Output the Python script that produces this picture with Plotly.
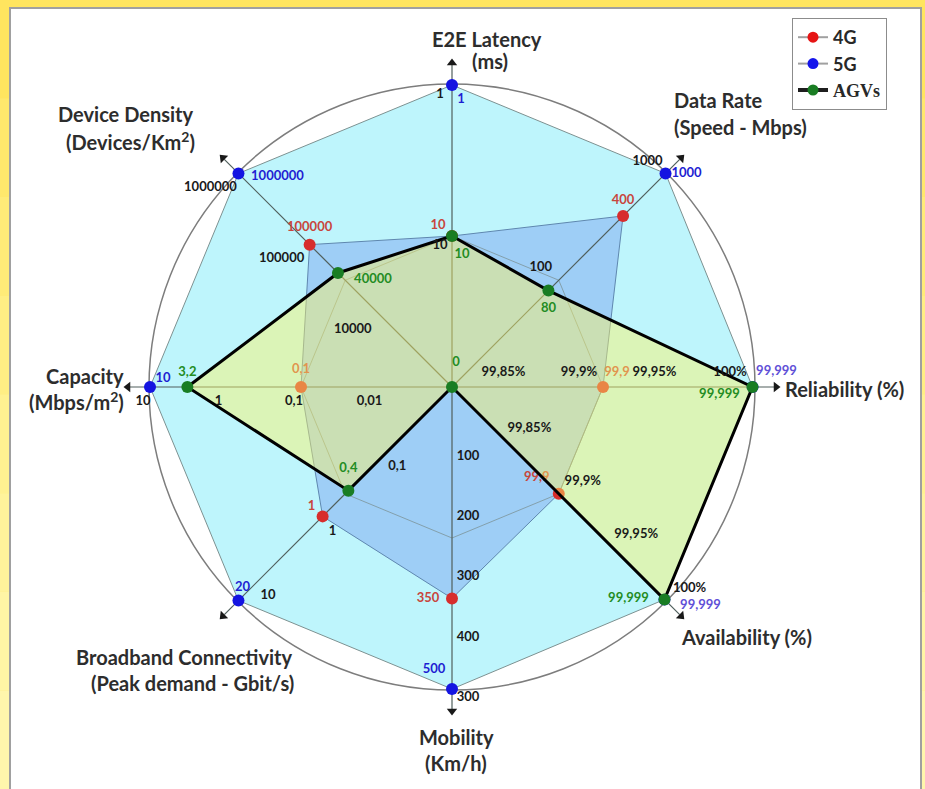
import math
import plotly.graph_objects as go

# ---------------- data ----------------
AXIS_NAMES = ["E2E Latency", "Data Rate", "Reliability", "Availability",
              "Mobility", "Broadband Connectivity", "Capacity", "Device Density"]
ANGLES = [90, 45, 0, -45, -90, -135, 180, 135]

SCALE_KIND = ["log", "log", "lin", "lin", "lin", "log", "log", "log"]
SCALE_LO = [100, 10, 99.8, 99.8, 0, 0.01, 0.001, 1000]
SCALE_HI = [1, 1000, 100, 100, 500, 20, 10, 1000000]

VAL_4G = [10, 400, 99.9, 99.9, 350, 1, 0.1, 100000]
VAL_5G = [1, 1000, 99.999, 99.999, 500, 20, 10, 1000000]
VAL_AGV = [10, 80, 99.999, 99.999, 0, 0.4, 3.2, 40000]

LBL_4G = ["10", "400", "99,9", "99,9", "350", "1", "0,1", "100000"]
LBL_5G = ["1", "1000", "99,999", "99,999", "500", "20", "10", "1000000"]
LBL_AGV = ["10", "80", "99,999", "99,999", "0", "0,4", "3,2", "40000"]

TICK_VALS = [[1, 10], [100, 1000], [99.85, 99.9, 99.95, 100], [99.85, 99.9, 99.95, 100],
             [100, 200, 300, 400, 500], [0.1, 1, 10], [10, 1, 0.1, 0.01],
             [1000000, 100000, 10000]]
TICK_TEXT = [["1", "10"], ["100", "1000"], ["99,85%", "99,9%", "99,95%", "100%"],
             ["99,85%", "99,9%", "99,95%", "100%"], ["100", "200", "300", "400", "300"],
             ["0,1", "1", "10"], ["10", "1", "0,1", "0,01"],
             ["1000000", "100000", "10000"]]

# ---------------- style / layout ----------------
W, H = 925, 789
CX, CY = 452, 387          # screen position of the radar centre
R = 302                    # full-scale radius (px)
FONT = "Lato"

OFF_5G = [(9, 15), (21, 0), (24, -15), (36, 6), (-18, -19), (4, -13), (13, -8), (39, 3)]
OFF_4G = [(-14, -10), (0, -15), (14, -14), (-22, -16), (-24, 0), (-11, -10), (0, -17), (0, -17)]
OFF_AGV = [(10, 19), (0, 18), (-33, 8), (-36, -1), (4, -24), (0, -22), (0, -14), (35, 7)]
TICK_OFF = [(-12, 10), (-18, -12), (-24, -14), (24, -12), (16, 9), (10, 15), (-7, 15), (-28, 14)]

COL_5G_TXT = ["rgb(30,30,210)", "rgb(30,30,210)", "rgb(95,80,215)", "rgb(95,80,215)",
              "rgb(30,30,210)", "rgb(30,30,210)", "rgb(30,30,210)", "rgb(30,30,210)"]


def radius(i, v):
    lo, hi = SCALE_LO[i], SCALE_HI[i]
    if SCALE_KIND[i] == "log":
        t = (math.log10(v) - math.log10(lo)) / (math.log10(hi) - math.log10(lo))
    else:
        t = (v - lo) / (hi - lo)
    return R * t


def polar_xy(i, r):
    a = math.radians(ANGLES[i])
    return r * math.cos(a), r * math.sin(a)


def value_xy(i, v):
    return polar_xy(i, radius(i, v))


def series_xy(vals, closed=True):
    pts = [value_xy(i, v) for i, v in enumerate(vals)]
    if closed:
        pts = pts + [pts[0]]
    return [p[0] for p in pts], [p[1] for p in pts]


def label_xy(vals, offs):
    xs, ys = [], []
    for i, v in enumerate(vals):
        x, y = value_xy(i, v)
        xs.append(x + offs[i][0])
        ys.append(y - offs[i][1])
    return xs, ys


fig = go.Figure()

# 5G area
x5, y5 = series_xy(VAL_5G)
fig.add_trace(go.Scatter(x=x5, y=y5, mode="lines", fill="toself",
                         fillcolor="rgb(190,245,252)",
                         line=dict(color="rgb(125,145,145)", width=1),
                         hoverinfo="skip", showlegend=False))
# 4G area
x4, y4 = series_xy(VAL_4G)
fig.add_trace(go.Scatter(x=x4, y=y4, mode="lines", fill="toself",
                         fillcolor="rgb(158,206,246)",
                         line=dict(color="rgb(95,135,175)", width=1),
                         hoverinfo="skip", showlegend=False))

# mid-level grid octagon
gx, gy = [], []
for i in range(len(ANGLES) + 1):
    px, py = polar_xy(i % len(ANGLES), R / 2)
    gx.append(px)
    gy.append(py)
fig.add_trace(go.Scatter(x=gx, y=gy, mode="lines",
                         line=dict(color="rgba(120,140,140,0.7)", width=1),
                         hoverinfo="skip", showlegend=False))

# axis spokes (extend beyond the circle up to the arrow heads)
ax_x, ax_y = [], []
for i in range(len(ANGLES)):
    ex, ey = polar_xy(i, R + 20)
    ax_x += [0, ex, None]
    ax_y += [0, ey, None]
fig.add_trace(go.Scatter(x=ax_x, y=ax_y, mode="lines",
                         line=dict(color="rgb(80,95,92)", width=1.2),
                         hoverinfo="skip", showlegend=False))
# arrow heads
hx, hy, hang = [], [], []
for i in range(len(ANGLES)):
    px, py = polar_xy(i, R + 22)
    hx.append(px)
    hy.append(py)
    hang.append(90 - ANGLES[i])
fig.add_trace(go.Scatter(x=hx, y=hy, mode="markers",
                         marker=dict(symbol="triangle-up", size=9, angle=hang,
                                     color="rgb(25,25,25)"),
                         hoverinfo="skip", showlegend=False))

# 5G markers
fig.add_trace(go.Scatter(x=x5[:-1], y=y5[:-1], mode="markers",
                         marker=dict(color="rgb(20,20,225)", size=12),
                         hoverinfo="skip", showlegend=False))
# 4G markers and labels (under the AGV fill)
fig.add_trace(go.Scatter(x=x4[:-1], y=y4[:-1], mode="markers",
                         marker=dict(color="rgb(215,45,45)", size=12),
                         hoverinfo="skip", showlegend=False))
lx, ly = label_xy(VAL_4G, OFF_4G)
fig.add_trace(go.Scatter(x=lx, y=ly, mode="text", text=LBL_4G,
                         textfont=dict(family=FONT, size=13, color="rgb(200,70,60)", weight="bold"),
                         hoverinfo="skip", showlegend=False))

# AGV area
xa, ya = series_xy(VAL_AGV)
fig.add_trace(go.Scatter(x=xa, y=ya, mode="lines", fill="toself",
                         fillcolor="rgba(255,245,100,0.45)",
                         line=dict(color="black", width=3),
                         hoverinfo="skip", showlegend=False))
fig.add_trace(go.Scatter(x=xa[:-1], y=ya[:-1], mode="markers",
                         marker=dict(color="rgb(25,125,35)", size=12),
                         hoverinfo="skip", showlegend=False))

# 5G and AGV labels
lx, ly = label_xy(VAL_5G, OFF_5G)
fig.add_trace(go.Scatter(x=lx, y=ly, mode="text", text=LBL_5G,
                         textfont=dict(family=FONT, size=13, color=COL_5G_TXT, weight="bold"),
                         hoverinfo="skip", showlegend=False))
lx, ly = label_xy(VAL_AGV, OFF_AGV)
fig.add_trace(go.Scatter(x=lx, y=ly, mode="text", text=LBL_AGV,
                         textfont=dict(family=FONT, size=13, color="rgb(35,140,35)", weight="bold"),
                         hoverinfo="skip", showlegend=False))

# tick labels
tx, ty, tt = [], [], []
for i in range(len(ANGLES)):
    for v, s in zip(TICK_VALS[i], TICK_TEXT[i]):
        x, y = value_xy(i, v)
        tx.append(x + TICK_OFF[i][0])
        ty.append(y - TICK_OFF[i][1])
        tt.append(s)
fig.add_trace(go.Scatter(x=tx, y=ty, mode="text", text=tt,
                         textfont=dict(family=FONT, size=13, color="rgb(25,25,25)", weight="bold"),
                         hoverinfo="skip", showlegend=False))

# legend entries
fig.add_trace(go.Scatter(x=[None], y=[None], mode="lines+markers", name="<b>4G</b>",
                         line=dict(color="rgb(160,160,160)", width=2),
                         marker=dict(color="rgb(230,20,20)", size=11)))
fig.add_trace(go.Scatter(x=[None], y=[None], mode="lines+markers", name="<b>5G</b>",
                         line=dict(color="rgb(160,160,160)", width=2),
                         marker=dict(color="rgb(20,20,235)", size=11)))
fig.add_trace(go.Scatter(x=[None], y=[None], mode="lines+markers",
                         name='<span style="font-family:Liberation Serif"><b>AGVs</b></span>',
                         line=dict(color="rgb(30,30,30)", width=4),
                         marker=dict(color="rgb(25,125,35)", size=11)))

annotations = []


def scr(px, py):
    return px - CX, CY - py


TITLE_LINES = [
    ("E2E Latency", 487, 39, "center"), ("(ms)", 490, 61, "center"),
    ("Data Rate", 718, 100, "center"), ("(Speed - Mbps)", 740, 127, "center"),
    ("Reliability (%)", 783, 389, "left"),
    ("Availability (%)", 679, 637, "left"),
    ("Mobility", 456, 737, "center"), ("(Km/h)", 456, 763, "center"),
    ("Broadband Connectivity", 184, 657, "center"),
    ("(Peak demand - Gbit/s)", 192, 683, "center"),
    ("Capacity", 85, 376, "center"), ("(Mbps/m<sup>2</sup>)", 76, 401, "center"),
    ("Device Density", 125, 114, "center"), ("(Devices/Km<sup>2</sup>)", 130, 141, "center"),
]
for text, px, py, anchor in TITLE_LINES:
    x, y = scr(px, py)
    annotations.append(dict(x=x, y=y, xref="x", yref="y", text="<b>%s</b>" % text,
                            showarrow=False, xanchor=anchor, yanchor="middle",
                            font=dict(family=FONT, size=20, color="rgb(45,45,45)")))

# yellow frame with a soft vertical gradient
BAND_COLORS = ["rgb(255,229,95)", "rgb(255,232,108)", "rgb(255,235,120)",
               "rgb(255,238,132)", "rgb(255,241,145)", "rgb(255,243,155)",
               "rgb(255,245,165)", "rgb(255,246,172)"]
shapes = []
nb = len(BAND_COLORS)
for k, c in enumerate(BAND_COLORS):
    shapes.append(dict(type="rect", xref="paper", yref="paper", x0=0, x1=1,
                       y0=1 - (k + 1) / nb, y1=1 - k / nb, fillcolor=c,
                       line=dict(width=0), layer="below"))
shapes += [
    dict(type="rect", xref="paper", yref="paper", x0=10 / W, x1=921 / W,
         y0=-0.01, y1=1 - 8 / H, fillcolor="white",
         line=dict(color="rgb(160,160,160)", width=2), layer="below"),
    dict(type="circle", xref="x", yref="y", x0=-R - 1, y0=-R - 1, x1=R + 1, y1=R + 1,
         line=dict(color="rgb(125,125,125)", width=1.5), layer="below"),
]

fig.update_layout(
    width=W, height=H,
    margin=dict(l=0, r=0, t=0, b=0),
    paper_bgcolor="rgb(255,236,125)",
    plot_bgcolor="rgba(0,0,0,0)",
    xaxis=dict(range=[-CX, W - CX], visible=False, fixedrange=True),
    yaxis=dict(range=[CY - H, CY], visible=False, fixedrange=True),
    shapes=shapes,
    annotations=annotations,
    showlegend=True,
    legend=dict(x=792 / W, y=1 - 18 / H, xanchor="left", yanchor="top",
                bgcolor="white", bordercolor="rgb(140,140,140)", borderwidth=1,
                font=dict(family=FONT, size=18, color="rgb(40,40,40)"),
                itemwidth=30, tracegroupgap=0),
)

fig.write_html("out.html",
               config={"displayModeBar": False},
               post_script="document.body.style.margin='0';"
                           "document.body.style.overflow='hidden';"
                           "document.body.style.background='rgb(255,236,125)';")
